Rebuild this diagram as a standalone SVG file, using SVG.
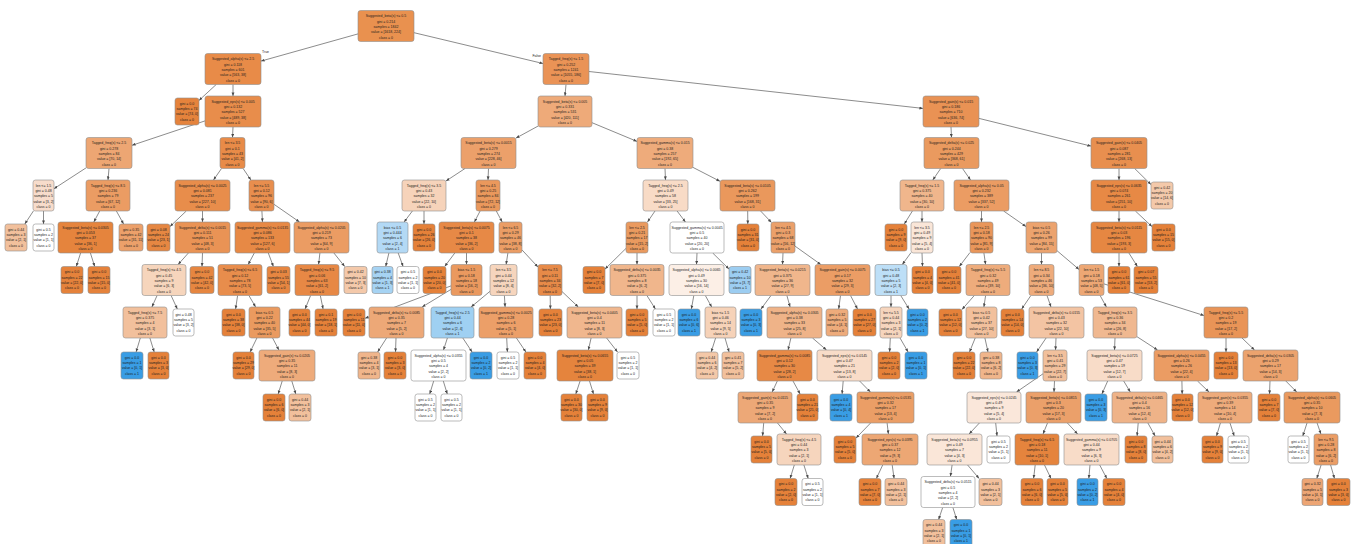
<svg xmlns="http://www.w3.org/2000/svg" width="1357" height="544" viewBox="0 0 1357 544">
<style>
.nd rect{stroke:#8f8f8f;stroke-width:.6;rx:2.5px;ry:2.5px}
.nd text{font-family:"Liberation Sans",Arial,sans-serif;font-size:3.5px;fill:#1e1e1e;text-anchor:middle}
.ed line{stroke:#666;stroke-width:.75;fill:none;marker-end:url(#ah)}
.lbl{font-family:"Liberation Sans",Arial,sans-serif;font-size:3.5px;fill:#1e1e1e}
</style>
<defs>
<marker id="ah" viewBox="0 0 10 10" refX="10" refY="5" markerWidth="3.6" markerHeight="3.6" markerUnits="userSpaceOnUse" orient="auto"><path d="M0,1L10,5L0,9z" fill="#4a4a4a"/></marker>
</defs>
<rect width="1357" height="544" fill="#fff"/>
<g id="edges" class="ed">
<line x1="358" y1="33.9" x2="261" y2="61.1"/>
<line x1="414" y1="32.7" x2="543" y2="63.5"/>
<line x1="216.2" y1="84.5" x2="199" y2="100.4"/>
<line x1="233" y1="84.5" x2="233" y2="96"/>
<line x1="205" y1="120.9" x2="132" y2="145.3"/>
<line x1="233" y1="127" x2="232.5" y2="137.5"/>
<line x1="86" y1="167.9" x2="54" y2="188.7"/>
<line x1="109" y1="168.5" x2="108" y2="180"/>
<line x1="33.4" y1="211" x2="24.8" y2="224"/>
<line x1="43.5" y1="211" x2="43.5" y2="224"/>
<line x1="99.7" y1="211" x2="93.8" y2="222"/>
<line x1="116.4" y1="211" x2="123.6" y2="224"/>
<line x1="80.6" y1="253" x2="76.3" y2="266.5"/>
<line x1="90.4" y1="253" x2="94.7" y2="266.5"/>
<line x1="221.5" y1="168.5" x2="213.5" y2="180"/>
<line x1="243.1" y1="168.5" x2="250.9" y2="180"/>
<line x1="186.3" y1="211" x2="170" y2="226.5"/>
<line x1="202.5" y1="211" x2="202.5" y2="222"/>
<line x1="261.9" y1="211" x2="262.5" y2="222"/>
<line x1="274" y1="204.3" x2="299.5" y2="222"/>
<line x1="188.4" y1="253" x2="178.1" y2="264.5"/>
<line x1="202.5" y1="253" x2="202" y2="266.5"/>
<line x1="157.1" y1="295.5" x2="151.9" y2="307"/>
<line x1="171.1" y1="295.5" x2="177.3" y2="309"/>
<line x1="140.3" y1="338" x2="136.1" y2="352"/>
<line x1="149.9" y1="338" x2="154.2" y2="352"/>
<line x1="254.3" y1="253" x2="248.2" y2="264.5"/>
<line x1="268.3" y1="253" x2="273.4" y2="266.5"/>
<line x1="237.6" y1="295.5" x2="235.6" y2="309"/>
<line x1="248.9" y1="295.5" x2="255.6" y2="307"/>
<line x1="256.9" y1="338" x2="250.1" y2="352"/>
<line x1="272.6" y1="338" x2="278.9" y2="350"/>
<line x1="282.2" y1="381" x2="278.2" y2="394"/>
<line x1="291.8" y1="381" x2="295.8" y2="394"/>
<line x1="319.9" y1="253" x2="318.6" y2="264.5"/>
<line x1="333.9" y1="253" x2="344.7" y2="266.5"/>
<line x1="310.6" y1="295.5" x2="305.1" y2="309"/>
<line x1="320.3" y1="295.5" x2="323.1" y2="309"/>
<line x1="566" y1="84.5" x2="565" y2="96"/>
<line x1="589" y1="71.5" x2="923" y2="108.4"/>
<line x1="538" y1="126.1" x2="516" y2="138.1"/>
<line x1="592" y1="122.7" x2="637" y2="141.4"/>
<line x1="465" y1="168.5" x2="446" y2="181"/>
<line x1="488.5" y1="168.5" x2="488" y2="180"/>
<line x1="412.4" y1="211" x2="404.1" y2="222"/>
<line x1="424" y1="211" x2="424" y2="224"/>
<line x1="388.9" y1="253" x2="385.7" y2="266.5"/>
<line x1="398.2" y1="253" x2="403.1" y2="266.5"/>
<line x1="480.1" y1="211" x2="474.4" y2="222"/>
<line x1="496.3" y1="211" x2="502.2" y2="222"/>
<line x1="454.8" y1="253" x2="444.7" y2="266.5"/>
<line x1="466.5" y1="253" x2="466.5" y2="264.5"/>
<line x1="451" y1="285.9" x2="365" y2="318.3"/>
<line x1="451" y1="289.4" x2="422.1" y2="307"/>
<line x1="386.6" y1="338" x2="377.6" y2="352"/>
<line x1="396" y1="338" x2="395.5" y2="352"/>
<line x1="507.9" y1="253" x2="506.1" y2="264.5"/>
<line x1="522" y1="249.9" x2="538" y2="267.1"/>
<line x1="490" y1="291.3" x2="471.1" y2="307"/>
<line x1="504.4" y1="295.5" x2="505.1" y2="307"/>
<line x1="447.4" y1="338" x2="443.5" y2="350"/>
<line x1="462.8" y1="338" x2="472.1" y2="352"/>
<line x1="433.7" y1="381" x2="429.7" y2="394"/>
<line x1="443.3" y1="381" x2="447.3" y2="394"/>
<line x1="506.7" y1="338" x2="507.4" y2="352"/>
<line x1="516.4" y1="338" x2="525.9" y2="352"/>
<line x1="550.2" y1="295.5" x2="550.4" y2="309"/>
<line x1="562" y1="291.5" x2="578.3" y2="307"/>
<line x1="591.1" y1="338" x2="588.4" y2="350"/>
<line x1="606.6" y1="338" x2="617.5" y2="352"/>
<line x1="580.1" y1="381" x2="575.8" y2="394"/>
<line x1="589.5" y1="381" x2="593.5" y2="394"/>
<line x1="665" y1="168.5" x2="665.5" y2="180"/>
<line x1="693" y1="167.4" x2="720" y2="181.3"/>
<line x1="655" y1="211" x2="647.5" y2="222"/>
<line x1="677.1" y1="211" x2="685.4" y2="222"/>
<line x1="626" y1="248.4" x2="605" y2="269.1"/>
<line x1="637" y1="253" x2="637" y2="264.5"/>
<line x1="637" y1="295.5" x2="637" y2="309"/>
<line x1="646.9" y1="295.5" x2="655.4" y2="309"/>
<line x1="697" y1="253" x2="696.5" y2="264.5"/>
<line x1="712.7" y1="253" x2="729" y2="269.1"/>
<line x1="693.8" y1="295.5" x2="691.4" y2="309"/>
<line x1="705.3" y1="295.5" x2="711.7" y2="307"/>
<line x1="715.6" y1="338" x2="711.2" y2="352"/>
<line x1="725" y1="338" x2="729.1" y2="352"/>
<line x1="747.7" y1="211" x2="747.8" y2="224"/>
<line x1="760.6" y1="211" x2="771.5" y2="222.5"/>
<line x1="783" y1="253" x2="782.5" y2="264.5"/>
<line x1="795" y1="246.1" x2="820.8" y2="264.5"/>
<line x1="771" y1="295.5" x2="761" y2="309"/>
<line x1="786.9" y1="295.5" x2="790.1" y2="307"/>
<line x1="840.5" y1="295.5" x2="838.7" y2="309"/>
<line x1="850.5" y1="295.5" x2="857.5" y2="309"/>
<line x1="790.9" y1="338" x2="788.1" y2="350"/>
<line x1="812.5" y1="338" x2="826.5" y2="350"/>
<line x1="777.3" y1="381" x2="772.2" y2="392"/>
<line x1="793" y1="381" x2="800.1" y2="394"/>
<line x1="763.7" y1="423" x2="762.6" y2="436"/>
<line x1="777.5" y1="423" x2="786.5" y2="434"/>
<line x1="794.3" y1="465" x2="790.1" y2="478.5"/>
<line x1="803.9" y1="465" x2="808.2" y2="478.5"/>
<line x1="843.2" y1="381" x2="842.1" y2="394"/>
<line x1="859.6" y1="381" x2="870.4" y2="392"/>
<line x1="870.6" y1="423" x2="856" y2="438.1"/>
<line x1="887.1" y1="423" x2="888.4" y2="434"/>
<line x1="882.7" y1="465" x2="876.4" y2="478.5"/>
<line x1="892.2" y1="465" x2="894.1" y2="478.5"/>
<line x1="951" y1="127" x2="951.5" y2="137.5"/>
<line x1="979" y1="118.4" x2="1091" y2="146.1"/>
<line x1="940.7" y1="168.5" x2="932.8" y2="180"/>
<line x1="962.5" y1="168.5" x2="970.5" y2="180"/>
<line x1="912.4" y1="211" x2="904.3" y2="224"/>
<line x1="922" y1="211" x2="922" y2="222"/>
<line x1="911" y1="252.6" x2="902.3" y2="264.5"/>
<line x1="922" y1="253" x2="922.5" y2="266.5"/>
<line x1="891" y1="295.5" x2="891" y2="307"/>
<line x1="900.7" y1="295.5" x2="909.1" y2="309"/>
<line x1="890.3" y1="338" x2="889.6" y2="352"/>
<line x1="900" y1="338" x2="908.1" y2="352"/>
<line x1="981.5" y1="211" x2="981.5" y2="222"/>
<line x1="1003.6" y1="211" x2="1026" y2="226.6"/>
<line x1="970" y1="252.5" x2="959.3" y2="266.5"/>
<line x1="983.9" y1="253" x2="985.6" y2="264.5"/>
<line x1="974.3" y1="295.5" x2="962" y2="309.5"/>
<line x1="985.6" y1="295.5" x2="983.9" y2="307"/>
<line x1="975.2" y1="338" x2="969.5" y2="352"/>
<line x1="984.9" y1="338" x2="988" y2="352"/>
<line x1="1041.5" y1="253" x2="1041.5" y2="264.5"/>
<line x1="1057" y1="250.7" x2="1079" y2="269.4"/>
<line x1="1030.9" y1="295.5" x2="1021.7" y2="309"/>
<line x1="1047" y1="295.5" x2="1051" y2="307"/>
<line x1="1046.1" y1="338" x2="1036.6" y2="352"/>
<line x1="1056" y1="338" x2="1055.5" y2="350"/>
<line x1="1043" y1="373.8" x2="1016.5" y2="392"/>
<line x1="1054.5" y1="381" x2="1054" y2="392"/>
<line x1="979.4" y1="423" x2="969.1" y2="434"/>
<line x1="995.7" y1="423" x2="997" y2="436"/>
<line x1="952.1" y1="465" x2="950.4" y2="476.5"/>
<line x1="967.6" y1="465" x2="979.1" y2="478.5"/>
<line x1="942.7" y1="507.5" x2="938.6" y2="519.5"/>
<line x1="952.9" y1="507.5" x2="956.7" y2="519.5"/>
<line x1="1047.5" y1="423" x2="1043" y2="434"/>
<line x1="1067.4" y1="423" x2="1077.6" y2="434"/>
<line x1="1035.2" y1="465" x2="1033.6" y2="478.5"/>
<line x1="1044.5" y1="465" x2="1051" y2="478.5"/>
<line x1="1090" y1="465" x2="1088.8" y2="478.5"/>
<line x1="1099.7" y1="465" x2="1106.8" y2="478.5"/>
<line x1="1100.1" y1="295.5" x2="1106.4" y2="307"/>
<line x1="1104" y1="283.9" x2="1204" y2="315.5"/>
<line x1="1115" y1="338" x2="1114.5" y2="350"/>
<line x1="1137" y1="336.7" x2="1157.5" y2="350"/>
<line x1="1107.7" y1="381" x2="1101.9" y2="394"/>
<line x1="1123.7" y1="381" x2="1130.3" y2="392"/>
<line x1="1138.2" y1="423" x2="1137.1" y2="436"/>
<line x1="1147.9" y1="423" x2="1155.1" y2="436"/>
<line x1="1181.9" y1="381" x2="1182.2" y2="394"/>
<line x1="1197.5" y1="381" x2="1209" y2="392"/>
<line x1="1220.4" y1="423" x2="1216.5" y2="436"/>
<line x1="1230" y1="423" x2="1234.2" y2="436"/>
<line x1="1226" y1="338" x2="1226" y2="352"/>
<line x1="1242" y1="338" x2="1254.5" y2="350"/>
<line x1="1270" y1="381" x2="1269.5" y2="394"/>
<line x1="1285.8" y1="381" x2="1296.7" y2="392"/>
<line x1="1307" y1="423" x2="1302.8" y2="436"/>
<line x1="1317.1" y1="423" x2="1320.9" y2="434"/>
<line x1="1321.1" y1="465" x2="1316.8" y2="478.5"/>
<line x1="1330.6" y1="465" x2="1334.5" y2="478.5"/>
<line x1="1119" y1="168.5" x2="1119" y2="180"/>
<line x1="1134.7" y1="168.5" x2="1151" y2="184.6"/>
<line x1="1119" y1="211" x2="1119" y2="222"/>
<line x1="1135.4" y1="211" x2="1152" y2="226.6"/>
<line x1="1119" y1="253" x2="1119" y2="266.5"/>
<line x1="1128.9" y1="253" x2="1137.4" y2="266.5"/>
</g>
<text class="lbl" x="262" y="53">True</text>
<text class="lbl" x="541" y="57" text-anchor="end">False</text>
<g id="n0" class="nd"><rect x="358" y="10.5" width="56" height="31" fill="#e9914f"/><text x="386" y="17.3">Suggested_beta(s) &lt;= 0.5<tspan x="386" dy="5.3">gini = 0.214</tspan><tspan x="386" dy="5.3">samples = 1842</tspan><tspan x="386" dy="5.3">value = [1618, 224]</tspan><tspan x="386" dy="5.3">class = 0</tspan></text></g>
<g id="n1" class="nd"><rect x="205" y="53.5" width="56" height="31" fill="#e88b48"/><text x="233" y="60.3">Suggested_alpha(s) &lt;= 2.5<tspan x="233" dy="5.3">gini = 0.118</tspan><tspan x="233" dy="5.3">samples = 601</tspan><tspan x="233" dy="5.3">value = [563, 38]</tspan><tspan x="233" dy="5.3">class = 0</tspan></text></g>
<g id="n2" class="nd"><rect x="543" y="53.5" width="46" height="31" fill="#ea9356"/><text x="566" y="60.3">Tagged_freq(s) &lt;= 1.5<tspan x="566" dy="5.3">gini = 0.252</tspan><tspan x="566" dy="5.3">samples = 1241</tspan><tspan x="566" dy="5.3">value = [1055, 186]</tspan><tspan x="566" dy="5.3">class = 0</tspan></text></g>
<g id="n3" class="nd"><rect x="175" y="98" width="24" height="27" fill="#e5833c"/><text x="187" y="104.8">gini = 0.0<tspan x="187" dy="5.3">samples = 74</tspan><tspan x="187" dy="5.3">value = [74, 0]</tspan><tspan x="187" dy="5.3">class = 0</tspan></text></g>
<g id="n4" class="nd"><rect x="205" y="96" width="56" height="31" fill="#e88d4b"/><text x="233" y="102.8">Suggested_eps(s) &lt;= 0.005<tspan x="233" dy="5.3">gini = 0.132</tspan><tspan x="233" dy="5.3">samples = 527</tspan><tspan x="233" dy="5.3">value = [489, 38]</tspan><tspan x="233" dy="5.3">class = 0</tspan></text></g>
<g id="n5" class="nd"><rect x="538" y="96" width="54" height="31" fill="#eeaa79"/><text x="565" y="102.8">Suggested_beta(s) &lt;= 0.005<tspan x="565" dy="5.3">gini = 0.331</tspan><tspan x="565" dy="5.3">samples = 531</tspan><tspan x="565" dy="5.3">value = [420, 111]</tspan><tspan x="565" dy="5.3">class = 0</tspan></text></g>
<g id="n6" class="nd"><rect x="923" y="96" width="56" height="31" fill="#e99254"/><text x="951" y="102.8">Suggested_gain(s) &lt;= 0.015<tspan x="951" dy="5.3">gini = 0.186</tspan><tspan x="951" dy="5.3">samples = 710</tspan><tspan x="951" dy="5.3">value = [636, 74]</tspan><tspan x="951" dy="5.3">class = 0</tspan></text></g>
<g id="n7" class="nd"><rect x="86" y="137.5" width="46" height="31" fill="#eda673"/><text x="109" y="144.3">Tagged_freq(s) &lt;= 2.5<tspan x="109" dy="5.3">gini = 0.278</tspan><tspan x="109" dy="5.3">samples = 84</tspan><tspan x="109" dy="5.3">value = [70, 14]</tspan><tspan x="109" dy="5.3">class = 0</tspan></text></g>
<g id="n8" class="nd"><rect x="220" y="137.5" width="25" height="31" fill="#e88b48"/><text x="232.5" y="144.3">len &lt;= 3.5<tspan x="232.5" dy="5.3">gini = 0.1</tspan><tspan x="232.5" dy="5.3">samples = 43</tspan><tspan x="232.5" dy="5.3">value = [41, 2]</tspan><tspan x="232.5" dy="5.3">class = 0</tspan></text></g>
<g id="n9" class="nd"><rect x="461" y="137.5" width="55" height="31" fill="#eca06a"/><text x="488.5" y="144.3">Suggested_beta(s) &lt;= 0.0015<tspan x="488.5" dy="5.3">gini = 0.279</tspan><tspan x="488.5" dy="5.3">samples = 274</tspan><tspan x="488.5" dy="5.3">value = [228, 46]</tspan><tspan x="488.5" dy="5.3">class = 0</tspan></text></g>
<g id="n10" class="nd"><rect x="637" y="137.5" width="56" height="31" fill="#eeab7b"/><text x="665" y="144.3">Suggested_gamma(s) &lt;= 0.015<tspan x="665" dy="5.3">gini = 0.38</tspan><tspan x="665" dy="5.3">samples = 257</tspan><tspan x="665" dy="5.3">value = [192, 65]</tspan><tspan x="665" dy="5.3">class = 0</tspan></text></g>
<g id="n11" class="nd"><rect x="924" y="137.5" width="55" height="31" fill="#ea9a5f"/><text x="951.5" y="144.3">Suggested_delta(s) &lt;= 0.025<tspan x="951.5" dy="5.3">gini = 0.244</tspan><tspan x="951.5" dy="5.3">samples = 429</tspan><tspan x="951.5" dy="5.3">value = [368, 61]</tspan><tspan x="951.5" dy="5.3">class = 0</tspan></text></g>
<g id="n12" class="nd"><rect x="1091" y="137.5" width="56" height="31" fill="#e88f4f"/><text x="1119" y="144.3">Suggested_gain(s) &lt;= 0.0405<tspan x="1119" dy="5.3">gini = 0.087</tspan><tspan x="1119" dy="5.3">samples = 281</tspan><tspan x="1119" dy="5.3">value = [268, 13]</tspan><tspan x="1119" dy="5.3">class = 0</tspan></text></g>
<g id="n13" class="nd"><rect x="33" y="180" width="21" height="31" fill="#f7dccb"/><text x="43.5" y="186.8">len &lt;= 1.5<tspan x="43.5" dy="5.3">gini = 0.48</tspan><tspan x="43.5" dy="5.3">samples = 5</tspan><tspan x="43.5" dy="5.3">value = [3, 2]</tspan><tspan x="43.5" dy="5.3">class = 0</tspan></text></g>
<g id="n14" class="nd"><rect x="86" y="180" width="44" height="31" fill="#eb9c63"/><text x="108" y="186.8">Tagged_freq(s) &lt;= 8.5<tspan x="108" dy="5.3">gini = 0.236</tspan><tspan x="108" dy="5.3">samples = 79</tspan><tspan x="108" dy="5.3">value = [67, 12]</tspan><tspan x="108" dy="5.3">class = 0</tspan></text></g>
<g id="n15" class="nd"><rect x="175" y="180" width="55" height="31" fill="#e88d4b"/><text x="202.5" y="186.8">Suggested_alpha(s) &lt;= 0.0025<tspan x="202.5" dy="5.3">gini = 0.081</tspan><tspan x="202.5" dy="5.3">samples = 237</tspan><tspan x="202.5" dy="5.3">value = [227, 10]</tspan><tspan x="202.5" dy="5.3">class = 0</tspan></text></g>
<g id="n16" class="nd"><rect x="249" y="180" width="25" height="31" fill="#e88e4e"/><text x="261.5" y="186.8">len &lt;= 5.5<tspan x="261.5" dy="5.3">gini = 0.12</tspan><tspan x="261.5" dy="5.3">samples = 96</tspan><tspan x="261.5" dy="5.3">value = [90, 6]</tspan><tspan x="261.5" dy="5.3">class = 0</tspan></text></g>
<g id="n17" class="nd"><rect x="402" y="180" width="44" height="31" fill="#f6d3ba"/><text x="424" y="186.8">Tagged_freq(s) &lt;= 3.5<tspan x="424" dy="5.3">gini = 0.43</tspan><tspan x="424" dy="5.3">samples = 32</tspan><tspan x="424" dy="5.3">value = [22, 10]</tspan><tspan x="424" dy="5.3">class = 0</tspan></text></g>
<g id="n18" class="nd"><rect x="476" y="180" width="24" height="31" fill="#ea985c"/><text x="488" y="186.8">len &lt;= 4.5<tspan x="488" dy="5.3">gini = 0.25</tspan><tspan x="488" dy="5.3">samples = 84</tspan><tspan x="488" dy="5.3">value = [72, 12]</tspan><tspan x="488" dy="5.3">class = 0</tspan></text></g>
<g id="n19" class="nd"><rect x="643" y="180" width="45" height="31" fill="#f8dbc6"/><text x="665.5" y="186.8">Tagged_freq(s) &lt;= 2.5<tspan x="665.5" dy="5.3">gini = 0.49</tspan><tspan x="665.5" dy="5.3">samples = 58</tspan><tspan x="665.5" dy="5.3">value = [33, 25]</tspan><tspan x="665.5" dy="5.3">class = 0</tspan></text></g>
<g id="n20" class="nd"><rect x="720" y="180" width="55" height="31" fill="#ea985c"/><text x="747.5" y="186.8">Suggested_beta(s) &lt;= 0.0105<tspan x="747.5" dy="5.3">gini = 0.262</tspan><tspan x="747.5" dy="5.3">samples = 199</tspan><tspan x="747.5" dy="5.3">value = [168, 31]</tspan><tspan x="747.5" dy="5.3">class = 0</tspan></text></g>
<g id="n21" class="nd"><rect x="900" y="180" width="44" height="31" fill="#f0b68c"/><text x="922" y="186.8">Tagged_freq(s) &lt;= 1.5<tspan x="922" dy="5.3">gini = 0.375</tspan><tspan x="922" dy="5.3">samples = 40</tspan><tspan x="922" dy="5.3">value = [30, 10]</tspan><tspan x="922" dy="5.3">class = 0</tspan></text></g>
<g id="n22" class="nd"><rect x="954" y="180" width="55" height="31" fill="#eb9c63"/><text x="981.5" y="186.8">Suggested_alpha(s) &lt;= 0.05<tspan x="981.5" dy="5.3">gini = 0.232</tspan><tspan x="981.5" dy="5.3">samples = 389</tspan><tspan x="981.5" dy="5.3">value = [337, 52]</tspan><tspan x="981.5" dy="5.3">class = 0</tspan></text></g>
<g id="n23" class="nd"><rect x="1091" y="180" width="56" height="31" fill="#e78945"/><text x="1119" y="186.8">Suggested_eps(s) &lt;= 0.0635<tspan x="1119" dy="5.3">gini = 0.074</tspan><tspan x="1119" dy="5.3">samples = 261</tspan><tspan x="1119" dy="5.3">value = [251, 10]</tspan><tspan x="1119" dy="5.3">class = 0</tspan></text></g>
<g id="n24" class="nd"><rect x="1151" y="182" width="22" height="27" fill="#f4c9aa"/><text x="1162" y="188.8">gini = 0.42<tspan x="1162" dy="5.3">samples = 20</tspan><tspan x="1162" dy="5.3">value = [14, 6]</tspan><tspan x="1162" dy="5.3">class = 0</tspan></text></g>
<g id="n25" class="nd"><rect x="5" y="224" width="22" height="27" fill="#f2c09c"/><text x="16" y="230.8">gini = 0.44<tspan x="16" dy="5.3">samples = 3</tspan><tspan x="16" dy="5.3">value = [2, 1]</tspan><tspan x="16" dy="5.3">class = 0</tspan></text></g>
<g id="n26" class="nd"><rect x="33" y="224" width="21" height="27" fill="#ffffff"/><text x="43.5" y="230.8">gini = 0.5<tspan x="43.5" dy="5.3">samples = 2</tspan><tspan x="43.5" dy="5.3">value = [1, 1]</tspan><tspan x="43.5" dy="5.3">class = 0</tspan></text></g>
<g id="n27" class="nd"><rect x="58" y="222" width="55" height="31" fill="#e5843d"/><text x="85.5" y="228.8">Suggested_beta(s) &lt;= 0.0305<tspan x="85.5" dy="5.3">gini = 0.053</tspan><tspan x="85.5" dy="5.3">samples = 37</tspan><tspan x="85.5" dy="5.3">value = [36, 1]</tspan><tspan x="85.5" dy="5.3">class = 0</tspan></text></g>
<g id="n28" class="nd"><rect x="119" y="224" width="24" height="27" fill="#eca06a"/><text x="131" y="230.8">gini = 0.35<tspan x="131" dy="5.3">samples = 42</tspan><tspan x="131" dy="5.3">value = [31, 11]</tspan><tspan x="131" dy="5.3">class = 0</tspan></text></g>
<g id="n29" class="nd"><rect x="147" y="224" width="23" height="27" fill="#e68742"/><text x="158.5" y="230.8">gini = 0.08<tspan x="158.5" dy="5.3">samples = 24</tspan><tspan x="158.5" dy="5.3">value = [23, 1]</tspan><tspan x="158.5" dy="5.3">class = 0</tspan></text></g>
<g id="n30" class="nd"><rect x="175" y="222" width="55" height="31" fill="#e99355"/><text x="202.5" y="228.8">Suggested_delta(s) &lt;= 0.0015<tspan x="202.5" dy="5.3">gini = 0.111</tspan><tspan x="202.5" dy="5.3">samples = 51</tspan><tspan x="202.5" dy="5.3">value = [48, 3]</tspan><tspan x="202.5" dy="5.3">class = 0</tspan></text></g>
<g id="n31" class="nd"><rect x="235" y="222" width="55" height="31" fill="#e78945"/><text x="262.5" y="228.8">Suggested_gamma(s) &lt;= 0.0135<tspan x="262.5" dy="5.3">gini = 0.086</tspan><tspan x="262.5" dy="5.3">samples = 133</tspan><tspan x="262.5" dy="5.3">value = [127, 6]</tspan><tspan x="262.5" dy="5.3">class = 0</tspan></text></g>
<g id="n32" class="nd"><rect x="294" y="222" width="55" height="31" fill="#eb9c63"/><text x="321.5" y="228.8">Suggested_alpha(s) &lt;= 0.0205<tspan x="321.5" dy="5.3">gini = 0.219</tspan><tspan x="321.5" dy="5.3">samples = 73</tspan><tspan x="321.5" dy="5.3">value = [64, 9]</tspan><tspan x="321.5" dy="5.3">class = 0</tspan></text></g>
<g id="n33" class="nd"><rect x="377" y="222" width="31" height="31" fill="#b3d9f5"/><text x="392.5" y="228.8">bias &lt;= 0.5<tspan x="392.5" dy="5.3">gini = 0.444</tspan><tspan x="392.5" dy="5.3">samples = 6</tspan><tspan x="392.5" dy="5.3">value = [2, 4]</tspan><tspan x="392.5" dy="5.3">class = 1</tspan></text></g>
<g id="n34" class="nd"><rect x="413" y="224" width="22" height="27" fill="#e58139"/><text x="424" y="230.8">gini = 0.0<tspan x="424" dy="5.3">samples = 26</tspan><tspan x="424" dy="5.3">value = [26, 0]</tspan><tspan x="424" dy="5.3">class = 0</tspan></text></g>
<g id="n35" class="nd"><rect x="439" y="222" width="55" height="31" fill="#e78946"/><text x="466.5" y="228.8">Suggested_beta(s) &lt;= 0.0075<tspan x="466.5" dy="5.3">gini = 0.1</tspan><tspan x="466.5" dy="5.3">samples = 38</tspan><tspan x="466.5" dy="5.3">value = [36, 2]</tspan><tspan x="466.5" dy="5.3">class = 0</tspan></text></g>
<g id="n36" class="nd"><rect x="499" y="222" width="23" height="31" fill="#eb9d65"/><text x="510.5" y="228.8">len &lt;= 6.5<tspan x="510.5" dy="5.3">gini = 0.29</tspan><tspan x="510.5" dy="5.3">samples = 46</tspan><tspan x="510.5" dy="5.3">value = [38, 8]</tspan><tspan x="510.5" dy="5.3">class = 0</tspan></text></g>
<g id="n37" class="nd"><rect x="626" y="222" width="22" height="31" fill="#ea9a5f"/><text x="637" y="228.8">len &lt;= 2.5<tspan x="637" dy="5.3">gini = 0.21</tspan><tspan x="637" dy="5.3">samples = 17</tspan><tspan x="637" dy="5.3">value = [15, 2]</tspan><tspan x="637" dy="5.3">class = 0</tspan></text></g>
<g id="n38" class="nd"><rect x="670" y="222" width="54" height="31" fill="#ffffff"/><text x="697" y="228.8">Suggested_gamma(s) &lt;= 0.0045<tspan x="697" dy="5.3">gini = 0.5</tspan><tspan x="697" dy="5.3">samples = 40</tspan><tspan x="697" dy="5.3">value = [20, 20]</tspan><tspan x="697" dy="5.3">class = 0</tspan></text></g>
<g id="n39" class="nd"><rect x="737" y="224" width="22" height="27" fill="#e58139"/><text x="748" y="230.8">gini = 0.0<tspan x="748" dy="5.3">samples = 31</tspan><tspan x="748" dy="5.3">value = [31, 0]</tspan><tspan x="748" dy="5.3">class = 0</tspan></text></g>
<g id="n40" class="nd"><rect x="771" y="222" width="24" height="31" fill="#eba06a"/><text x="783" y="228.8">len &lt;= 4.5<tspan x="783" dy="5.3">gini = 0.3</tspan><tspan x="783" dy="5.3">samples = 68</tspan><tspan x="783" dy="5.3">value = [56, 12]</tspan><tspan x="783" dy="5.3">class = 0</tspan></text></g>
<g id="n41" class="nd"><rect x="885" y="224" width="22" height="27" fill="#e58139"/><text x="896" y="230.8">gini = 0.0<tspan x="896" dy="5.3">samples = 9</tspan><tspan x="896" dy="5.3">value = [9, 0]</tspan><tspan x="896" dy="5.3">class = 0</tspan></text></g>
<g id="n42" class="nd"><rect x="911" y="222" width="22" height="31" fill="#fae6d8"/><text x="922" y="228.8">len &lt;= 3.5<tspan x="922" dy="5.3">gini = 0.49</tspan><tspan x="922" dy="5.3">samples = 9</tspan><tspan x="922" dy="5.3">value = [5, 4]</tspan><tspan x="922" dy="5.3">class = 0</tspan></text></g>
<g id="n43" class="nd"><rect x="970" y="222" width="23" height="31" fill="#e9965a"/><text x="981.5" y="228.8">len &lt;= 2.5<tspan x="981.5" dy="5.3">gini = 0.18</tspan><tspan x="981.5" dy="5.3">samples = 90</tspan><tspan x="981.5" dy="5.3">value = [81, 9]</tspan><tspan x="981.5" dy="5.3">class = 0</tspan></text></g>
<g id="n44" class="nd"><rect x="1026" y="222" width="31" height="31" fill="#eca36e"/><text x="1041.5" y="228.8">bias &lt;= 0.5<tspan x="1041.5" dy="5.3">gini = 0.26</tspan><tspan x="1041.5" dy="5.3">samples = 99</tspan><tspan x="1041.5" dy="5.3">value = [84, 15]</tspan><tspan x="1041.5" dy="5.3">class = 0</tspan></text></g>
<g id="n45" class="nd"><rect x="1091" y="222" width="56" height="31" fill="#e68742"/><text x="1119" y="228.8">Suggested_beta(s) &lt;= 0.0115<tspan x="1119" dy="5.3">gini = 0.03</tspan><tspan x="1119" dy="5.3">samples = 196</tspan><tspan x="1119" dy="5.3">value = [193, 3]</tspan><tspan x="1119" dy="5.3">class = 0</tspan></text></g>
<g id="n46" class="nd"><rect x="1152" y="224" width="23" height="27" fill="#e58139"/><text x="1163.5" y="230.8">gini = 0.0<tspan x="1163.5" dy="5.3">samples = 15</tspan><tspan x="1163.5" dy="5.3">value = [15, 0]</tspan><tspan x="1163.5" dy="5.3">class = 0</tspan></text></g>
<g id="n47" class="nd"><rect x="61" y="266.5" width="22" height="27" fill="#e5823b"/><text x="72" y="273.3">gini = 0.0<tspan x="72" dy="5.3">samples = 22</tspan><tspan x="72" dy="5.3">value = [22, 0]</tspan><tspan x="72" dy="5.3">class = 0</tspan></text></g>
<g id="n48" class="nd"><rect x="88" y="266.5" width="22" height="27" fill="#e5823b"/><text x="99" y="273.3">gini = 0.0<tspan x="99" dy="5.3">samples = 15</tspan><tspan x="99" dy="5.3">value = [15, 0]</tspan><tspan x="99" dy="5.3">class = 0</tspan></text></g>
<g id="n49" class="nd"><rect x="142" y="264.5" width="44" height="31" fill="#f6d5bc"/><text x="164" y="271.3">Tagged_freq(s) &lt;= 4.5<tspan x="164" dy="5.3">gini = 0.45</tspan><tspan x="164" dy="5.3">samples = 9</tspan><tspan x="164" dy="5.3">value = [6, 3]</tspan><tspan x="164" dy="5.3">class = 0</tspan></text></g>
<g id="n50" class="nd"><rect x="190" y="266.5" width="24" height="27" fill="#e68640"/><text x="202" y="273.3">gini = 0.0<tspan x="202" dy="5.3">samples = 42</tspan><tspan x="202" dy="5.3">value = [42, 0]</tspan><tspan x="202" dy="5.3">class = 0</tspan></text></g>
<g id="n51" class="nd"><rect x="218" y="264.5" width="44" height="31" fill="#e88d4c"/><text x="240" y="271.3">Tagged_freq(s) &lt;= 6.5<tspan x="240" dy="5.3">gini = 0.12</tspan><tspan x="240" dy="5.3">samples = 78</tspan><tspan x="240" dy="5.3">value = [73, 5]</tspan><tspan x="240" dy="5.3">class = 0</tspan></text></g>
<g id="n52" class="nd"><rect x="267" y="266.5" width="23" height="27" fill="#e68641"/><text x="278.5" y="273.3">gini = 0.03<tspan x="278.5" dy="5.3">samples = 55</tspan><tspan x="278.5" dy="5.3">value = [54, 1]</tspan><tspan x="278.5" dy="5.3">class = 0</tspan></text></g>
<g id="n53" class="nd"><rect x="295" y="264.5" width="44" height="31" fill="#e78845"/><text x="317" y="271.3">Tagged_freq(s) &lt;= 9.5<tspan x="317" dy="5.3">gini = 0.06</tspan><tspan x="317" dy="5.3">samples = 63</tspan><tspan x="317" dy="5.3">value = [61, 2]</tspan><tspan x="317" dy="5.3">class = 0</tspan></text></g>
<g id="n54" class="nd"><rect x="344" y="266.5" width="23" height="27" fill="#f4c9aa"/><text x="355.5" y="273.3">gini = 0.42<tspan x="355.5" dy="5.3">samples = 10</tspan><tspan x="355.5" dy="5.3">value = [7, 3]</tspan><tspan x="355.5" dy="5.3">class = 0</tspan></text></g>
<g id="n55" class="nd"><rect x="372" y="266.5" width="21" height="27" fill="#a6d3f3"/><text x="382.5" y="273.3">gini = 0.38<tspan x="382.5" dy="5.3">samples = 4</tspan><tspan x="382.5" dy="5.3">value = [1, 3]</tspan><tspan x="382.5" dy="5.3">class = 1</tspan></text></g>
<g id="n56" class="nd"><rect x="397" y="266.5" width="22" height="27" fill="#ffffff"/><text x="408" y="273.3">gini = 0.5<tspan x="408" dy="5.3">samples = 2</tspan><tspan x="408" dy="5.3">value = [1, 1]</tspan><tspan x="408" dy="5.3">class = 0</tspan></text></g>
<g id="n57" class="nd"><rect x="423" y="266.5" width="23" height="27" fill="#e58139"/><text x="434.5" y="273.3">gini = 0.0<tspan x="434.5" dy="5.3">samples = 20</tspan><tspan x="434.5" dy="5.3">value = [20, 0]</tspan><tspan x="434.5" dy="5.3">class = 0</tspan></text></g>
<g id="n58" class="nd"><rect x="451" y="264.5" width="31" height="31" fill="#ea995f"/><text x="466.5" y="271.3">bias &lt;= 1.5<tspan x="466.5" dy="5.3">gini = 0.18</tspan><tspan x="466.5" dy="5.3">samples = 18</tspan><tspan x="466.5" dy="5.3">value = [16, 2]</tspan><tspan x="466.5" dy="5.3">class = 0</tspan></text></g>
<g id="n59" class="nd"><rect x="490" y="264.5" width="27" height="31" fill="#f6d5bd"/><text x="503.5" y="271.3">len &lt;= 3.5<tspan x="503.5" dy="5.3">gini = 0.44</tspan><tspan x="503.5" dy="5.3">samples = 12</tspan><tspan x="503.5" dy="5.3">value = [8, 4]</tspan><tspan x="503.5" dy="5.3">class = 0</tspan></text></g>
<g id="n60" class="nd"><rect x="538" y="264.5" width="24" height="31" fill="#e78a48"/><text x="550" y="271.3">len &lt;= 7.5<tspan x="550" dy="5.3">gini = 0.11</tspan><tspan x="550" dy="5.3">samples = 34</tspan><tspan x="550" dy="5.3">value = [32, 2]</tspan><tspan x="550" dy="5.3">class = 0</tspan></text></g>
<g id="n61" class="nd"><rect x="583" y="266.5" width="22" height="27" fill="#e58139"/><text x="594" y="273.3">gini = 0.0<tspan x="594" dy="5.3">samples = 7</tspan><tspan x="594" dy="5.3">value = [7, 0]</tspan><tspan x="594" dy="5.3">class = 0</tspan></text></g>
<g id="n62" class="nd"><rect x="610" y="264.5" width="54" height="31" fill="#f0b68c"/><text x="637" y="271.3">Suggested_delta(s) &lt;= 0.0035<tspan x="637" dy="5.3">gini = 0.375</tspan><tspan x="637" dy="5.3">samples = 8</tspan><tspan x="637" dy="5.3">value = [6, 2]</tspan><tspan x="637" dy="5.3">class = 0</tspan></text></g>
<g id="n63" class="nd"><rect x="669" y="264.5" width="55" height="31" fill="#fcefe6"/><text x="696.5" y="271.3">Suggested_alpha(s) &lt;= 0.0065<tspan x="696.5" dy="5.3">gini = 0.49</tspan><tspan x="696.5" dy="5.3">samples = 30</tspan><tspan x="696.5" dy="5.3">value = [16, 14]</tspan><tspan x="696.5" dy="5.3">class = 0</tspan></text></g>
<g id="n64" class="nd"><rect x="729" y="266.5" width="22" height="27" fill="#9ccdf1"/><text x="740" y="273.3">gini = 0.42<tspan x="740" dy="5.3">samples = 10</tspan><tspan x="740" dy="5.3">value = [3, 7]</tspan><tspan x="740" dy="5.3">class = 1</tspan></text></g>
<g id="n65" class="nd"><rect x="755" y="264.5" width="55" height="31" fill="#f0b68c"/><text x="782.5" y="271.3">Suggested_beta(s) &lt;= 0.0215<tspan x="782.5" dy="5.3">gini = 0.375</tspan><tspan x="782.5" dy="5.3">samples = 36</tspan><tspan x="782.5" dy="5.3">value = [27, 9]</tspan><tspan x="782.5" dy="5.3">class = 0</tspan></text></g>
<g id="n66" class="nd"><rect x="815" y="264.5" width="55" height="31" fill="#eb9d65"/><text x="842.5" y="271.3">Suggested_gain(s) &lt;= 0.0075<tspan x="842.5" dy="5.3">gini = 0.17</tspan><tspan x="842.5" dy="5.3">samples = 32</tspan><tspan x="842.5" dy="5.3">value = [29, 3]</tspan><tspan x="842.5" dy="5.3">class = 0</tspan></text></g>
<g id="n67" class="nd"><rect x="875" y="264.5" width="32" height="31" fill="#bddff7"/><text x="891" y="271.3">bias &lt;= 0.5<tspan x="891" dy="5.3">gini = 0.48</tspan><tspan x="891" dy="5.3">samples = 5</tspan><tspan x="891" dy="5.3">value = [2, 3]</tspan><tspan x="891" dy="5.3">class = 1</tspan></text></g>
<g id="n68" class="nd"><rect x="912" y="266.5" width="21" height="27" fill="#e58139"/><text x="922.5" y="273.3">gini = 0.0<tspan x="922.5" dy="5.3">samples = 4</tspan><tspan x="922.5" dy="5.3">value = [4, 0]</tspan><tspan x="922.5" dy="5.3">class = 0</tspan></text></g>
<g id="n69" class="nd"><rect x="937" y="266.5" width="24" height="27" fill="#e58139"/><text x="949" y="273.3">gini = 0.0<tspan x="949" dy="5.3">samples = 41</tspan><tspan x="949" dy="5.3">value = [41, 0]</tspan><tspan x="949" dy="5.3">class = 0</tspan></text></g>
<g id="n70" class="nd"><rect x="966" y="264.5" width="44" height="31" fill="#eeac7c"/><text x="988" y="271.3">Tagged_freq(s) &lt;= 5.5<tspan x="988" dy="5.3">gini = 0.32</tspan><tspan x="988" dy="5.3">samples = 49</tspan><tspan x="988" dy="5.3">value = [39, 10]</tspan><tspan x="988" dy="5.3">class = 0</tspan></text></g>
<g id="n71" class="nd"><rect x="1029" y="264.5" width="25" height="31" fill="#eeab7b"/><text x="1041.5" y="271.3">len &lt;= 8.5<tspan x="1041.5" dy="5.3">gini = 0.34</tspan><tspan x="1041.5" dy="5.3">samples = 46</tspan><tspan x="1041.5" dy="5.3">value = [36, 10]</tspan><tspan x="1041.5" dy="5.3">class = 0</tspan></text></g>
<g id="n72" class="nd"><rect x="1079" y="264.5" width="25" height="31" fill="#eda774"/><text x="1091.5" y="271.3">len &lt;= 1.5<tspan x="1091.5" dy="5.3">gini = 0.18</tspan><tspan x="1091.5" dy="5.3">samples = 53</tspan><tspan x="1091.5" dy="5.3">value = [48, 5]</tspan><tspan x="1091.5" dy="5.3">class = 0</tspan></text></g>
<g id="n73" class="nd"><rect x="1108" y="266.5" width="22" height="27" fill="#e58139"/><text x="1119" y="273.3">gini = 0.0<tspan x="1119" dy="5.3">samples = 61</tspan><tspan x="1119" dy="5.3">value = [61, 0]</tspan><tspan x="1119" dy="5.3">class = 0</tspan></text></g>
<g id="n74" class="nd"><rect x="1134" y="266.5" width="24" height="27" fill="#e58139"/><text x="1146" y="273.3">gini = 0.07<tspan x="1146" dy="5.3">samples = 55</tspan><tspan x="1146" dy="5.3">value = [53, 2]</tspan><tspan x="1146" dy="5.3">class = 0</tspan></text></g>
<g id="n75" class="nd"><rect x="123" y="307" width="44" height="31" fill="#f2c09c"/><text x="145" y="313.8">Tagged_freq(s) &lt;= 7.5<tspan x="145" dy="5.3">gini = 0.375</tspan><tspan x="145" dy="5.3">samples = 4</tspan><tspan x="145" dy="5.3">value = [3, 1]</tspan><tspan x="145" dy="5.3">class = 0</tspan></text></g>
<g id="n76" class="nd"><rect x="173" y="309" width="21" height="27" fill="#ffffff"/><text x="183.5" y="315.8">gini = 0.48<tspan x="183.5" dy="5.3">samples = 5</tspan><tspan x="183.5" dy="5.3">value = [3, 2]</tspan><tspan x="183.5" dy="5.3">class = 0</tspan></text></g>
<g id="n77" class="nd"><rect x="222" y="309" width="23" height="27" fill="#e58139"/><text x="233.5" y="315.8">gini = 0.0<tspan x="233.5" dy="5.3">samples = 38</tspan><tspan x="233.5" dy="5.3">value = [38, 0]</tspan><tspan x="233.5" dy="5.3">class = 0</tspan></text></g>
<g id="n78" class="nd"><rect x="249" y="307" width="31" height="31" fill="#ea9a5f"/><text x="264.5" y="313.8">bias &lt;= 0.5<tspan x="264.5" dy="5.3">gini = 0.22</tspan><tspan x="264.5" dy="5.3">samples = 40</tspan><tspan x="264.5" dy="5.3">value = [35, 5]</tspan><tspan x="264.5" dy="5.3">class = 0</tspan></text></g>
<g id="n79" class="nd"><rect x="289" y="309" width="21" height="27" fill="#e58139"/><text x="299.5" y="315.8">gini = 0.0<tspan x="299.5" dy="5.3">samples = 44</tspan><tspan x="299.5" dy="5.3">value = [44, 0]</tspan><tspan x="299.5" dy="5.3">class = 0</tspan></text></g>
<g id="n80" class="nd"><rect x="315" y="309" width="22" height="27" fill="#e58139"/><text x="326" y="315.8">gini = 0.1<tspan x="326" dy="5.3">samples = 19</tspan><tspan x="326" dy="5.3">value = [18, 1]</tspan><tspan x="326" dy="5.3">class = 0</tspan></text></g>
<g id="n81" class="nd"><rect x="343" y="309" width="22" height="27" fill="#e58139"/><text x="354" y="315.8">gini = 0.0<tspan x="354" dy="5.3">samples = 11</tspan><tspan x="354" dy="5.3">value = [11, 0]</tspan><tspan x="354" dy="5.3">class = 0</tspan></text></g>
<g id="n82" class="nd"><rect x="369" y="307" width="55" height="31" fill="#eda877"/><text x="396.5" y="313.8">Suggested_delta(s) &lt;= 0.0085<tspan x="396.5" dy="5.3">gini = 0.35</tspan><tspan x="396.5" dy="5.3">samples = 7</tspan><tspan x="396.5" dy="5.3">value = [5, 2]</tspan><tspan x="396.5" dy="5.3">class = 0</tspan></text></g>
<g id="n83" class="nd"><rect x="431" y="307" width="43" height="31" fill="#9fd0f2"/><text x="452.5" y="313.8">Tagged_freq(s) &lt;= 2.5<tspan x="452.5" dy="5.3">gini = 0.44</tspan><tspan x="452.5" dy="5.3">samples = 6</tspan><tspan x="452.5" dy="5.3">value = [2, 4]</tspan><tspan x="452.5" dy="5.3">class = 1</tspan></text></g>
<g id="n84" class="nd"><rect x="479" y="307" width="54" height="31" fill="#ec9f68"/><text x="506" y="313.8">Suggested_gamma(s) &lt;= 0.0025<tspan x="506" dy="5.3">gini = 0.28</tspan><tspan x="506" dy="5.3">samples = 6</tspan><tspan x="506" dy="5.3">value = [5, 1]</tspan><tspan x="506" dy="5.3">class = 0</tspan></text></g>
<g id="n85" class="nd"><rect x="539" y="309" width="23" height="27" fill="#e58139"/><text x="550.5" y="315.8">gini = 0.0<tspan x="550.5" dy="5.3">samples = 23</tspan><tspan x="550.5" dy="5.3">value = [23, 0]</tspan><tspan x="550.5" dy="5.3">class = 0</tspan></text></g>
<g id="n86" class="nd"><rect x="567" y="307" width="55" height="31" fill="#f0b78e"/><text x="594.5" y="313.8">Suggested_beta(s) &lt;= 0.0405<tspan x="594.5" dy="5.3">gini = 0.4</tspan><tspan x="594.5" dy="5.3">samples = 11</tspan><tspan x="594.5" dy="5.3">value = [8, 3]</tspan><tspan x="594.5" dy="5.3">class = 0</tspan></text></g>
<g id="n87" class="nd"><rect x="626" y="309" width="22" height="27" fill="#e58139"/><text x="637" y="315.8">gini = 0.0<tspan x="637" dy="5.3">samples = 5</tspan><tspan x="637" dy="5.3">value = [5, 0]</tspan><tspan x="637" dy="5.3">class = 0</tspan></text></g>
<g id="n88" class="nd"><rect x="653" y="309" width="22" height="27" fill="#ffffff"/><text x="664" y="315.8">gini = 0.5<tspan x="664" dy="5.3">samples = 2</tspan><tspan x="664" dy="5.3">value = [1, 1]</tspan><tspan x="664" dy="5.3">class = 0</tspan></text></g>
<g id="n89" class="nd"><rect x="678" y="309" width="22" height="27" fill="#399de5"/><text x="689" y="315.8">gini = 0.0<tspan x="689" dy="5.3">samples = 6</tspan><tspan x="689" dy="5.3">value = [0, 6]</tspan><tspan x="689" dy="5.3">class = 1</tspan></text></g>
<g id="n90" class="nd"><rect x="705" y="307" width="31" height="31" fill="#f6d2b8"/><text x="720.5" y="313.8">bias &lt;= 1.5<tspan x="720.5" dy="5.3">gini = 0.46</tspan><tspan x="720.5" dy="5.3">samples = 14</tspan><tspan x="720.5" dy="5.3">value = [9, 5]</tspan><tspan x="720.5" dy="5.3">class = 0</tspan></text></g>
<g id="n91" class="nd"><rect x="740" y="309" width="22" height="27" fill="#399de5"/><text x="751" y="315.8">gini = 0.0<tspan x="751" dy="5.3">samples = 3</tspan><tspan x="751" dy="5.3">value = [0, 3]</tspan><tspan x="751" dy="5.3">class = 1</tspan></text></g>
<g id="n92" class="nd"><rect x="767" y="307" width="55" height="31" fill="#efb388"/><text x="794.5" y="313.8">Suggested_alpha(s) &lt;= 0.0305<tspan x="794.5" dy="5.3">gini = 0.38</tspan><tspan x="794.5" dy="5.3">samples = 33</tspan><tspan x="794.5" dy="5.3">value = [25, 8]</tspan><tspan x="794.5" dy="5.3">class = 0</tspan></text></g>
<g id="n93" class="nd"><rect x="826" y="309" width="22" height="27" fill="#eeab7b"/><text x="837" y="315.8">gini = 0.32<tspan x="837" dy="5.3">samples = 5</tspan><tspan x="837" dy="5.3">value = [4, 1]</tspan><tspan x="837" dy="5.3">class = 0</tspan></text></g>
<g id="n94" class="nd"><rect x="853" y="309" width="23" height="27" fill="#e58139"/><text x="864.5" y="315.8">gini = 0.0<tspan x="864.5" dy="5.3">samples = 27</tspan><tspan x="864.5" dy="5.3">value = [27, 0]</tspan><tspan x="864.5" dy="5.3">class = 0</tspan></text></g>
<g id="n95" class="nd"><rect x="880" y="307" width="22" height="31" fill="#f6d5bd"/><text x="891" y="313.8">len &lt;= 5.5<tspan x="891" dy="5.3">gini = 0.44</tspan><tspan x="891" dy="5.3">samples = 3</tspan><tspan x="891" dy="5.3">value = [2, 1]</tspan><tspan x="891" dy="5.3">class = 0</tspan></text></g>
<g id="n96" class="nd"><rect x="907" y="309" width="21" height="27" fill="#399de5"/><text x="917.5" y="315.8">gini = 0.0<tspan x="917.5" dy="5.3">samples = 2</tspan><tspan x="917.5" dy="5.3">value = [0, 2]</tspan><tspan x="917.5" dy="5.3">class = 1</tspan></text></g>
<g id="n97" class="nd"><rect x="939" y="309" width="23" height="27" fill="#e58139"/><text x="950.5" y="315.8">gini = 0.0<tspan x="950.5" dy="5.3">samples = 12</tspan><tspan x="950.5" dy="5.3">value = [12, 0]</tspan><tspan x="950.5" dy="5.3">class = 0</tspan></text></g>
<g id="n98" class="nd"><rect x="966" y="307" width="31" height="31" fill="#f2c09c"/><text x="981.5" y="313.8">bias &lt;= 0.5<tspan x="981.5" dy="5.3">gini = 0.42</tspan><tspan x="981.5" dy="5.3">samples = 37</tspan><tspan x="981.5" dy="5.3">value = [27, 10]</tspan><tspan x="981.5" dy="5.3">class = 0</tspan></text></g>
<g id="n99" class="nd"><rect x="1001" y="309" width="23" height="27" fill="#e58139"/><text x="1012.5" y="315.8">gini = 0.0<tspan x="1012.5" dy="5.3">samples = 14</tspan><tspan x="1012.5" dy="5.3">value = [14, 0]</tspan><tspan x="1012.5" dy="5.3">class = 0</tspan></text></g>
<g id="n100" class="nd"><rect x="1029" y="307" width="55" height="31" fill="#f3c4a3"/><text x="1056.5" y="313.8">Suggested_delta(s) &lt;= 0.0155<tspan x="1056.5" dy="5.3">gini = 0.43</tspan><tspan x="1056.5" dy="5.3">samples = 32</tspan><tspan x="1056.5" dy="5.3">value = [22, 10]</tspan><tspan x="1056.5" dy="5.3">class = 0</tspan></text></g>
<g id="n101" class="nd"><rect x="1093" y="307" width="44" height="31" fill="#f0b890"/><text x="1115" y="313.8">Tagged_freq(s) &lt;= 3.5<tspan x="1115" dy="5.3">gini = 0.36</tspan><tspan x="1115" dy="5.3">samples = 34</tspan><tspan x="1115" dy="5.3">value = [26, 8]</tspan><tspan x="1115" dy="5.3">class = 0</tspan></text></g>
<g id="n102" class="nd"><rect x="1204" y="307" width="44" height="31" fill="#e99457"/><text x="1226" y="313.8">Tagged_freq(s) &lt;= 5.5<tspan x="1226" dy="5.3">gini = 0.2</tspan><tspan x="1226" dy="5.3">samples = 19</tspan><tspan x="1226" dy="5.3">value = [17, 2]</tspan><tspan x="1226" dy="5.3">class = 0</tspan></text></g>
<g id="n103" class="nd"><rect x="121" y="352" width="22" height="27" fill="#399de5"/><text x="132" y="358.8">gini = 0.0<tspan x="132" dy="5.3">samples = 1</tspan><tspan x="132" dy="5.3">value = [0, 1]</tspan><tspan x="132" dy="5.3">class = 1</tspan></text></g>
<g id="n104" class="nd"><rect x="148" y="352" width="21" height="27" fill="#e58139"/><text x="158.5" y="358.8">gini = 0.0<tspan x="158.5" dy="5.3">samples = 3</tspan><tspan x="158.5" dy="5.3">value = [3, 0]</tspan><tspan x="158.5" dy="5.3">class = 0</tspan></text></g>
<g id="n105" class="nd"><rect x="233" y="352" width="21" height="27" fill="#e58139"/><text x="243.5" y="358.8">gini = 0.0<tspan x="243.5" dy="5.3">samples = 29</tspan><tspan x="243.5" dy="5.3">value = [29, 0]</tspan><tspan x="243.5" dy="5.3">class = 0</tspan></text></g>
<g id="n106" class="nd"><rect x="259" y="350" width="56" height="31" fill="#eeab7b"/><text x="287" y="356.8">Suggested_gain(s) &lt;= 0.0205<tspan x="287" dy="5.3">gini = 0.35</tspan><tspan x="287" dy="5.3">samples = 11</tspan><tspan x="287" dy="5.3">value = [8, 3]</tspan><tspan x="287" dy="5.3">class = 0</tspan></text></g>
<g id="n107" class="nd"><rect x="358" y="352" width="22" height="27" fill="#f0b58b"/><text x="369" y="358.8">gini = 0.38<tspan x="369" dy="5.3">samples = 4</tspan><tspan x="369" dy="5.3">value = [3, 1]</tspan><tspan x="369" dy="5.3">class = 0</tspan></text></g>
<g id="n108" class="nd"><rect x="384" y="352" width="22" height="27" fill="#e58139"/><text x="395" y="358.8">gini = 0.0<tspan x="395" dy="5.3">samples = 3</tspan><tspan x="395" dy="5.3">value = [3, 0]</tspan><tspan x="395" dy="5.3">class = 0</tspan></text></g>
<g id="n109" class="nd"><rect x="411" y="350" width="55" height="31" fill="#ffffff"/><text x="438.5" y="356.8">Suggested_alpha(s) &lt;= 0.0355<tspan x="438.5" dy="5.3">gini = 0.5</tspan><tspan x="438.5" dy="5.3">samples = 4</tspan><tspan x="438.5" dy="5.3">value = [2, 2]</tspan><tspan x="438.5" dy="5.3">class = 0</tspan></text></g>
<g id="n110" class="nd"><rect x="470" y="352" width="22" height="27" fill="#399de5"/><text x="481" y="358.8">gini = 0.0<tspan x="481" dy="5.3">samples = 2</tspan><tspan x="481" dy="5.3">value = [0, 2]</tspan><tspan x="481" dy="5.3">class = 1</tspan></text></g>
<g id="n111" class="nd"><rect x="497" y="352" width="22" height="27" fill="#ffffff"/><text x="508" y="358.8">gini = 0.5<tspan x="508" dy="5.3">samples = 2</tspan><tspan x="508" dy="5.3">value = [1, 1]</tspan><tspan x="508" dy="5.3">class = 0</tspan></text></g>
<g id="n112" class="nd"><rect x="524" y="352" width="22" height="27" fill="#e58139"/><text x="535" y="358.8">gini = 0.0<tspan x="535" dy="5.3">samples = 4</tspan><tspan x="535" dy="5.3">value = [4, 0]</tspan><tspan x="535" dy="5.3">class = 0</tspan></text></g>
<g id="n113" class="nd"><rect x="557" y="350" width="56" height="31" fill="#e5843d"/><text x="585" y="356.8">Suggested_beta(s) &lt;= 0.0655<tspan x="585" dy="5.3">gini = 0.05</tspan><tspan x="585" dy="5.3">samples = 39</tspan><tspan x="585" dy="5.3">value = [38, 1]</tspan><tspan x="585" dy="5.3">class = 0</tspan></text></g>
<g id="n114" class="nd"><rect x="617" y="352" width="22" height="27" fill="#ffffff"/><text x="628" y="358.8">gini = 0.5<tspan x="628" dy="5.3">samples = 2</tspan><tspan x="628" dy="5.3">value = [1, 1]</tspan><tspan x="628" dy="5.3">class = 0</tspan></text></g>
<g id="n115" class="nd"><rect x="696" y="352" width="22" height="27" fill="#f4c8a8"/><text x="707" y="358.8">gini = 0.44<tspan x="707" dy="5.3">samples = 6</tspan><tspan x="707" dy="5.3">value = [4, 2]</tspan><tspan x="707" dy="5.3">class = 0</tspan></text></g>
<g id="n116" class="nd"><rect x="722" y="352" width="22" height="27" fill="#f2c09c"/><text x="733" y="358.8">gini = 0.41<tspan x="733" dy="5.3">samples = 7</tspan><tspan x="733" dy="5.3">value = [5, 2]</tspan><tspan x="733" dy="5.3">class = 0</tspan></text></g>
<g id="n117" class="nd"><rect x="757" y="350" width="55" height="31" fill="#e78945"/><text x="784.5" y="356.8">Suggested_gamma(s) &lt;= 0.0085<tspan x="784.5" dy="5.3">gini = 0.12</tspan><tspan x="784.5" dy="5.3">samples = 30</tspan><tspan x="784.5" dy="5.3">value = [28, 2]</tspan><tspan x="784.5" dy="5.3">class = 0</tspan></text></g>
<g id="n118" class="nd"><rect x="817" y="350" width="55" height="31" fill="#f8dcc8"/><text x="844.5" y="356.8">Suggested_eps(s) &lt;= 0.0145<tspan x="844.5" dy="5.3">gini = 0.47</tspan><tspan x="844.5" dy="5.3">samples = 21</tspan><tspan x="844.5" dy="5.3">value = [13, 8]</tspan><tspan x="844.5" dy="5.3">class = 0</tspan></text></g>
<g id="n119" class="nd"><rect x="878" y="352" width="22" height="27" fill="#e58139"/><text x="889" y="358.8">gini = 0.0<tspan x="889" dy="5.3">samples = 2</tspan><tspan x="889" dy="5.3">value = [2, 0]</tspan><tspan x="889" dy="5.3">class = 0</tspan></text></g>
<g id="n120" class="nd"><rect x="905" y="352" width="22" height="27" fill="#399de5"/><text x="916" y="358.8">gini = 0.0<tspan x="916" dy="5.3">samples = 1</tspan><tspan x="916" dy="5.3">value = [0, 1]</tspan><tspan x="916" dy="5.3">class = 1</tspan></text></g>
<g id="n121" class="nd"><rect x="953" y="352" width="22" height="27" fill="#e58139"/><text x="964" y="358.8">gini = 0.0<tspan x="964" dy="5.3">samples = 22</tspan><tspan x="964" dy="5.3">value = [22, 0]</tspan><tspan x="964" dy="5.3">class = 0</tspan></text></g>
<g id="n122" class="nd"><rect x="980" y="352" width="22" height="27" fill="#f0b58b"/><text x="991" y="358.8">gini = 0.38<tspan x="991" dy="5.3">samples = 8</tspan><tspan x="991" dy="5.3">value = [6, 2]</tspan><tspan x="991" dy="5.3">class = 0</tspan></text></g>
<g id="n123" class="nd"><rect x="1017" y="352" width="21" height="27" fill="#399de5"/><text x="1027.5" y="358.8">gini = 0.0<tspan x="1027.5" dy="5.3">samples = 3</tspan><tspan x="1027.5" dy="5.3">value = [0, 3]</tspan><tspan x="1027.5" dy="5.3">class = 1</tspan></text></g>
<g id="n124" class="nd"><rect x="1043" y="350" width="24" height="31" fill="#f2c09c"/><text x="1055" y="356.8">len &lt;= 3.5<tspan x="1055" dy="5.3">gini = 0.41</tspan><tspan x="1055" dy="5.3">samples = 29</tspan><tspan x="1055" dy="5.3">value = [22, 7]</tspan><tspan x="1055" dy="5.3">class = 0</tspan></text></g>
<g id="n125" class="nd"><rect x="1087" y="350" width="55" height="31" fill="#f8dcc8"/><text x="1114.5" y="356.8">Suggested_beta(s) &lt;= 0.0725<tspan x="1114.5" dy="5.3">gini = 0.47</tspan><tspan x="1114.5" dy="5.3">samples = 19</tspan><tspan x="1114.5" dy="5.3">value = [12, 7]</tspan><tspan x="1114.5" dy="5.3">class = 0</tspan></text></g>
<g id="n126" class="nd"><rect x="1154" y="350" width="55" height="31" fill="#eb9c63"/><text x="1181.5" y="356.8">Suggested_alpha(s) &lt;= 0.0455<tspan x="1181.5" dy="5.3">gini = 0.26</tspan><tspan x="1181.5" dy="5.3">samples = 26</tspan><tspan x="1181.5" dy="5.3">value = [22, 4]</tspan><tspan x="1181.5" dy="5.3">class = 0</tspan></text></g>
<g id="n127" class="nd"><rect x="1214" y="352" width="24" height="27" fill="#e58139"/><text x="1226" y="358.8">gini = 0.0<tspan x="1226" dy="5.3">samples = 13</tspan><tspan x="1226" dy="5.3">value = [13, 0]</tspan><tspan x="1226" dy="5.3">class = 0</tspan></text></g>
<g id="n128" class="nd"><rect x="1243" y="350" width="55" height="31" fill="#eca36e"/><text x="1270.5" y="356.8">Suggested_delta(s) &lt;= 0.0305<tspan x="1270.5" dy="5.3">gini = 0.29</tspan><tspan x="1270.5" dy="5.3">samples = 17</tspan><tspan x="1270.5" dy="5.3">value = [14, 3]</tspan><tspan x="1270.5" dy="5.3">class = 0</tspan></text></g>
<g id="n129" class="nd"><rect x="263" y="394" width="22" height="27" fill="#e58139"/><text x="274" y="400.8">gini = 0.0<tspan x="274" dy="5.3">samples = 6</tspan><tspan x="274" dy="5.3">value = [6, 0]</tspan><tspan x="274" dy="5.3">class = 0</tspan></text></g>
<g id="n130" class="nd"><rect x="289" y="394" width="22" height="27" fill="#f2c09c"/><text x="300" y="400.8">gini = 0.44<tspan x="300" dy="5.3">samples = 3</tspan><tspan x="300" dy="5.3">value = [2, 1]</tspan><tspan x="300" dy="5.3">class = 0</tspan></text></g>
<g id="n131" class="nd"><rect x="415" y="394" width="21" height="27" fill="#ffffff"/><text x="425.5" y="400.8">gini = 0.5<tspan x="425.5" dy="5.3">samples = 2</tspan><tspan x="425.5" dy="5.3">value = [1, 1]</tspan><tspan x="425.5" dy="5.3">class = 0</tspan></text></g>
<g id="n132" class="nd"><rect x="441" y="394" width="21" height="27" fill="#ffffff"/><text x="451.5" y="400.8">gini = 0.5<tspan x="451.5" dy="5.3">samples = 2</tspan><tspan x="451.5" dy="5.3">value = [1, 1]</tspan><tspan x="451.5" dy="5.3">class = 0</tspan></text></g>
<g id="n133" class="nd"><rect x="561" y="394" width="21" height="27" fill="#e58139"/><text x="571.5" y="400.8">gini = 0.0<tspan x="571.5" dy="5.3">samples = 30</tspan><tspan x="571.5" dy="5.3">value = [30, 0]</tspan><tspan x="571.5" dy="5.3">class = 0</tspan></text></g>
<g id="n134" class="nd"><rect x="587" y="394" width="21" height="27" fill="#e58139"/><text x="597.5" y="400.8">gini = 0.0<tspan x="597.5" dy="5.3">samples = 9</tspan><tspan x="597.5" dy="5.3">value = [9, 0]</tspan><tspan x="597.5" dy="5.3">class = 0</tspan></text></g>
<g id="n135" class="nd"><rect x="738" y="392" width="54" height="31" fill="#eda877"/><text x="765" y="398.8">Suggested_gain(s) &lt;= 0.0115<tspan x="765" dy="5.3">gini = 0.35</tspan><tspan x="765" dy="5.3">samples = 9</tspan><tspan x="765" dy="5.3">value = [7, 2]</tspan><tspan x="765" dy="5.3">class = 0</tspan></text></g>
<g id="n136" class="nd"><rect x="797" y="394" width="21" height="27" fill="#e58139"/><text x="807.5" y="400.8">gini = 0.0<tspan x="807.5" dy="5.3">samples = 21</tspan><tspan x="807.5" dy="5.3">value = [21, 0]</tspan><tspan x="807.5" dy="5.3">class = 0</tspan></text></g>
<g id="n137" class="nd"><rect x="830" y="394" width="22" height="27" fill="#399de5"/><text x="841" y="400.8">gini = 0.0<tspan x="841" dy="5.3">samples = 4</tspan><tspan x="841" dy="5.3">value = [0, 4]</tspan><tspan x="841" dy="5.3">class = 1</tspan></text></g>
<g id="n138" class="nd"><rect x="857" y="392" width="57" height="31" fill="#eb9e66"/><text x="885.5" y="398.8">Suggested_gamma(s) &lt;= 0.0535<tspan x="885.5" dy="5.3">gini = 0.32</tspan><tspan x="885.5" dy="5.3">samples = 17</tspan><tspan x="885.5" dy="5.3">value = [13, 4]</tspan><tspan x="885.5" dy="5.3">class = 0</tspan></text></g>
<g id="n139" class="nd"><rect x="967" y="392" width="54" height="31" fill="#fae7da"/><text x="994" y="398.8">Suggested_eps(s) &lt;= 0.0245<tspan x="994" dy="5.3">gini = 0.49</tspan><tspan x="994" dy="5.3">samples = 9</tspan><tspan x="994" dy="5.3">value = [5, 4]</tspan><tspan x="994" dy="5.3">class = 0</tspan></text></g>
<g id="n140" class="nd"><rect x="1026" y="392" width="55" height="31" fill="#eba06a"/><text x="1053.5" y="398.8">Suggested_beta(s) &lt;= 0.0815<tspan x="1053.5" dy="5.3">gini = 0.3</tspan><tspan x="1053.5" dy="5.3">samples = 20</tspan><tspan x="1053.5" dy="5.3">value = [17, 3]</tspan><tspan x="1053.5" dy="5.3">class = 0</tspan></text></g>
<g id="n141" class="nd"><rect x="1085" y="394" width="22" height="27" fill="#399de5"/><text x="1096" y="400.8">gini = 0.0<tspan x="1096" dy="5.3">samples = 3</tspan><tspan x="1096" dy="5.3">value = [0, 3]</tspan><tspan x="1096" dy="5.3">class = 1</tspan></text></g>
<g id="n142" class="nd"><rect x="1112" y="392" width="55" height="31" fill="#efb388"/><text x="1139.5" y="398.8">Suggested_delta(s) &lt;= 0.0465<tspan x="1139.5" dy="5.3">gini = 0.4</tspan><tspan x="1139.5" dy="5.3">samples = 16</tspan><tspan x="1139.5" dy="5.3">value = [12, 4]</tspan><tspan x="1139.5" dy="5.3">class = 0</tspan></text></g>
<g id="n143" class="nd"><rect x="1172" y="394" width="21" height="27" fill="#e58139"/><text x="1182.5" y="400.8">gini = 0.0<tspan x="1182.5" dy="5.3">samples = 12</tspan><tspan x="1182.5" dy="5.3">value = [12, 0]</tspan><tspan x="1182.5" dy="5.3">class = 0</tspan></text></g>
<g id="n144" class="nd"><rect x="1198" y="392" width="54" height="31" fill="#eeab7b"/><text x="1225" y="398.8">Suggested_gain(s) &lt;= 0.0355<tspan x="1225" dy="5.3">gini = 0.39</tspan><tspan x="1225" dy="5.3">samples = 14</tspan><tspan x="1225" dy="5.3">value = [10, 4]</tspan><tspan x="1225" dy="5.3">class = 0</tspan></text></g>
<g id="n145" class="nd"><rect x="1258" y="394" width="22" height="27" fill="#e58139"/><text x="1269" y="400.8">gini = 0.0<tspan x="1269" dy="5.3">samples = 7</tspan><tspan x="1269" dy="5.3">value = [7, 0]</tspan><tspan x="1269" dy="5.3">class = 0</tspan></text></g>
<g id="n146" class="nd"><rect x="1284" y="392" width="56" height="31" fill="#ea9a5f"/><text x="1312" y="398.8">Suggested_alpha(s) &lt;= 0.0605<tspan x="1312" dy="5.3">gini = 0.35</tspan><tspan x="1312" dy="5.3">samples = 10</tspan><tspan x="1312" dy="5.3">value = [7, 3]</tspan><tspan x="1312" dy="5.3">class = 0</tspan></text></g>
<g id="n147" class="nd"><rect x="751" y="436" width="21" height="27" fill="#e58139"/><text x="761.5" y="442.8">gini = 0.0<tspan x="761.5" dy="5.3">samples = 5</tspan><tspan x="761.5" dy="5.3">value = [5, 0]</tspan><tspan x="761.5" dy="5.3">class = 0</tspan></text></g>
<g id="n148" class="nd"><rect x="777" y="434" width="44" height="31" fill="#f6d5bd"/><text x="799" y="440.8">Tagged_freq(s) &lt;= 4.5<tspan x="799" dy="5.3">gini = 0.44</tspan><tspan x="799" dy="5.3">samples = 3</tspan><tspan x="799" dy="5.3">value = [2, 1]</tspan><tspan x="799" dy="5.3">class = 0</tspan></text></g>
<g id="n149" class="nd"><rect x="834" y="436" width="22" height="27" fill="#e58139"/><text x="845" y="442.8">gini = 0.0<tspan x="845" dy="5.3">samples = 5</tspan><tspan x="845" dy="5.3">value = [5, 0]</tspan><tspan x="845" dy="5.3">class = 0</tspan></text></g>
<g id="n150" class="nd"><rect x="862" y="434" width="56" height="31" fill="#eda774"/><text x="890" y="440.8">Suggested_eps(s) &lt;= 0.0395<tspan x="890" dy="5.3">gini = 0.37</tspan><tspan x="890" dy="5.3">samples = 12</tspan><tspan x="890" dy="5.3">value = [9, 3]</tspan><tspan x="890" dy="5.3">class = 0</tspan></text></g>
<g id="n151" class="nd"><rect x="927" y="434" width="55" height="31" fill="#fae6d8"/><text x="954.5" y="440.8">Suggested_beta(s) &lt;= 0.0955<tspan x="954.5" dy="5.3">gini = 0.49</tspan><tspan x="954.5" dy="5.3">samples = 7</tspan><tspan x="954.5" dy="5.3">value = [4, 3]</tspan><tspan x="954.5" dy="5.3">class = 0</tspan></text></g>
<g id="n152" class="nd"><rect x="987" y="436" width="23" height="27" fill="#ffffff"/><text x="998.5" y="442.8">gini = 0.5<tspan x="998.5" dy="5.3">samples = 2</tspan><tspan x="998.5" dy="5.3">value = [1, 1]</tspan><tspan x="998.5" dy="5.3">class = 0</tspan></text></g>
<g id="n153" class="nd"><rect x="1015" y="434" width="44" height="31" fill="#e5843d"/><text x="1037" y="440.8">Tagged_freq(s) &lt;= 6.5<tspan x="1037" dy="5.3">gini = 0.18</tspan><tspan x="1037" dy="5.3">samples = 11</tspan><tspan x="1037" dy="5.3">value = [10, 1]</tspan><tspan x="1037" dy="5.3">class = 0</tspan></text></g>
<g id="n154" class="nd"><rect x="1064" y="434" width="55" height="31" fill="#f8dcc8"/><text x="1091.5" y="440.8">Suggested_gamma(s) &lt;= 0.0705<tspan x="1091.5" dy="5.3">gini = 0.44</tspan><tspan x="1091.5" dy="5.3">samples = 9</tspan><tspan x="1091.5" dy="5.3">value = [6, 3]</tspan><tspan x="1091.5" dy="5.3">class = 0</tspan></text></g>
<g id="n155" class="nd"><rect x="1125" y="436" width="22" height="27" fill="#e58139"/><text x="1136" y="442.8">gini = 0.0<tspan x="1136" dy="5.3">samples = 8</tspan><tspan x="1136" dy="5.3">value = [8, 0]</tspan><tspan x="1136" dy="5.3">class = 0</tspan></text></g>
<g id="n156" class="nd"><rect x="1152" y="436" width="21" height="27" fill="#f2c09c"/><text x="1162.5" y="442.8">gini = 0.44<tspan x="1162.5" dy="5.3">samples = 6</tspan><tspan x="1162.5" dy="5.3">value = [4, 2]</tspan><tspan x="1162.5" dy="5.3">class = 0</tspan></text></g>
<g id="n157" class="nd"><rect x="1202" y="436" width="21" height="27" fill="#e58139"/><text x="1212.5" y="442.8">gini = 0.0<tspan x="1212.5" dy="5.3">samples = 9</tspan><tspan x="1212.5" dy="5.3">value = [9, 0]</tspan><tspan x="1212.5" dy="5.3">class = 0</tspan></text></g>
<g id="n158" class="nd"><rect x="1228" y="436" width="21" height="27" fill="#ffffff"/><text x="1238.5" y="442.8">gini = 0.5<tspan x="1238.5" dy="5.3">samples = 2</tspan><tspan x="1238.5" dy="5.3">value = [1, 1]</tspan><tspan x="1238.5" dy="5.3">class = 0</tspan></text></g>
<g id="n159" class="nd"><rect x="1288" y="436" width="21" height="27" fill="#ffffff"/><text x="1298.5" y="442.8">gini = 0.5<tspan x="1298.5" dy="5.3">samples = 2</tspan><tspan x="1298.5" dy="5.3">value = [1, 1]</tspan><tspan x="1298.5" dy="5.3">class = 0</tspan></text></g>
<g id="n160" class="nd"><rect x="1314" y="434" width="24" height="31" fill="#eb9d65"/><text x="1326" y="440.8">len &lt;= 9.5<tspan x="1326" dy="5.3">gini = 0.28</tspan><tspan x="1326" dy="5.3">samples = 8</tspan><tspan x="1326" dy="5.3">value = [6, 2]</tspan><tspan x="1326" dy="5.3">class = 0</tspan></text></g>
<g id="n161" class="nd"><rect x="775" y="478.5" width="22" height="27" fill="#e58139"/><text x="786" y="485.3">gini = 0.0<tspan x="786" dy="5.3">samples = 2</tspan><tspan x="786" dy="5.3">value = [2, 0]</tspan><tspan x="786" dy="5.3">class = 0</tspan></text></g>
<g id="n162" class="nd"><rect x="802" y="478.5" width="21" height="27" fill="#ffffff"/><text x="812.5" y="485.3">gini = 0.5<tspan x="812.5" dy="5.3">samples = 2</tspan><tspan x="812.5" dy="5.3">value = [1, 1]</tspan><tspan x="812.5" dy="5.3">class = 0</tspan></text></g>
<g id="n163" class="nd"><rect x="859" y="478.5" width="22" height="27" fill="#e58139"/><text x="870" y="485.3">gini = 0.0<tspan x="870" dy="5.3">samples = 7</tspan><tspan x="870" dy="5.3">value = [7, 0]</tspan><tspan x="870" dy="5.3">class = 0</tspan></text></g>
<g id="n164" class="nd"><rect x="885" y="478.5" width="22" height="27" fill="#f2c09c"/><text x="896" y="485.3">gini = 0.44<tspan x="896" dy="5.3">samples = 3</tspan><tspan x="896" dy="5.3">value = [2, 1]</tspan><tspan x="896" dy="5.3">class = 0</tspan></text></g>
<g id="n165" class="nd"><rect x="921" y="476.5" width="54" height="31" fill="#ffffff"/><text x="948" y="483.3">Suggested_delta(s) &lt;= 0.0515<tspan x="948" dy="5.3">gini = 0.5</tspan><tspan x="948" dy="5.3">samples = 4</tspan><tspan x="948" dy="5.3">value = [2, 2]</tspan><tspan x="948" dy="5.3">class = 0</tspan></text></g>
<g id="n166" class="nd"><rect x="979" y="478.5" width="23" height="27" fill="#f2c09c"/><text x="990.5" y="485.3">gini = 0.44<tspan x="990.5" dy="5.3">samples = 3</tspan><tspan x="990.5" dy="5.3">value = [2, 1]</tspan><tspan x="990.5" dy="5.3">class = 0</tspan></text></g>
<g id="n167" class="nd"><rect x="1021" y="478.5" width="22" height="27" fill="#e58139"/><text x="1032" y="485.3">gini = 0.0<tspan x="1032" dy="5.3">samples = 6</tspan><tspan x="1032" dy="5.3">value = [6, 0]</tspan><tspan x="1032" dy="5.3">class = 0</tspan></text></g>
<g id="n168" class="nd"><rect x="1047" y="478.5" width="21" height="27" fill="#e58139"/><text x="1057.5" y="485.3">gini = 0.0<tspan x="1057.5" dy="5.3">samples = 5</tspan><tspan x="1057.5" dy="5.3">value = [5, 0]</tspan><tspan x="1057.5" dy="5.3">class = 0</tspan></text></g>
<g id="n169" class="nd"><rect x="1077" y="478.5" width="21" height="27" fill="#399de5"/><text x="1087.5" y="485.3">gini = 0.0<tspan x="1087.5" dy="5.3">samples = 2</tspan><tspan x="1087.5" dy="5.3">value = [0, 2]</tspan><tspan x="1087.5" dy="5.3">class = 1</tspan></text></g>
<g id="n170" class="nd"><rect x="1103" y="478.5" width="22" height="27" fill="#e58139"/><text x="1114" y="485.3">gini = 0.0<tspan x="1114" dy="5.3">samples = 4</tspan><tspan x="1114" dy="5.3">value = [4, 0]</tspan><tspan x="1114" dy="5.3">class = 0</tspan></text></g>
<g id="n171" class="nd"><rect x="1302" y="478.5" width="21" height="27" fill="#eda574"/><text x="1312.5" y="485.3">gini = 0.32<tspan x="1312.5" dy="5.3">samples = 5</tspan><tspan x="1312.5" dy="5.3">value = [4, 1]</tspan><tspan x="1312.5" dy="5.3">class = 0</tspan></text></g>
<g id="n172" class="nd"><rect x="1327" y="478.5" width="23" height="27" fill="#e58139"/><text x="1338.5" y="485.3">gini = 0.0<tspan x="1338.5" dy="5.3">samples = 3</tspan><tspan x="1338.5" dy="5.3">value = [3, 0]</tspan><tspan x="1338.5" dy="5.3">class = 0</tspan></text></g>
<g id="n173" class="nd"><rect x="923" y="519.5" width="22" height="27" fill="#f2c09c"/><text x="934" y="526.3">gini = 0.44<tspan x="934" dy="5.3">samples = 3</tspan><tspan x="934" dy="5.3">value = [2, 1]</tspan><tspan x="934" dy="5.3">class = 0</tspan></text></g>
<g id="n174" class="nd"><rect x="950" y="519.5" width="22" height="27" fill="#399de5"/><text x="961" y="526.3">gini = 0.0<tspan x="961" dy="5.3">samples = 1</tspan><tspan x="961" dy="5.3">value = [0, 1]</tspan><tspan x="961" dy="5.3">class = 1</tspan></text></g>
</svg>
